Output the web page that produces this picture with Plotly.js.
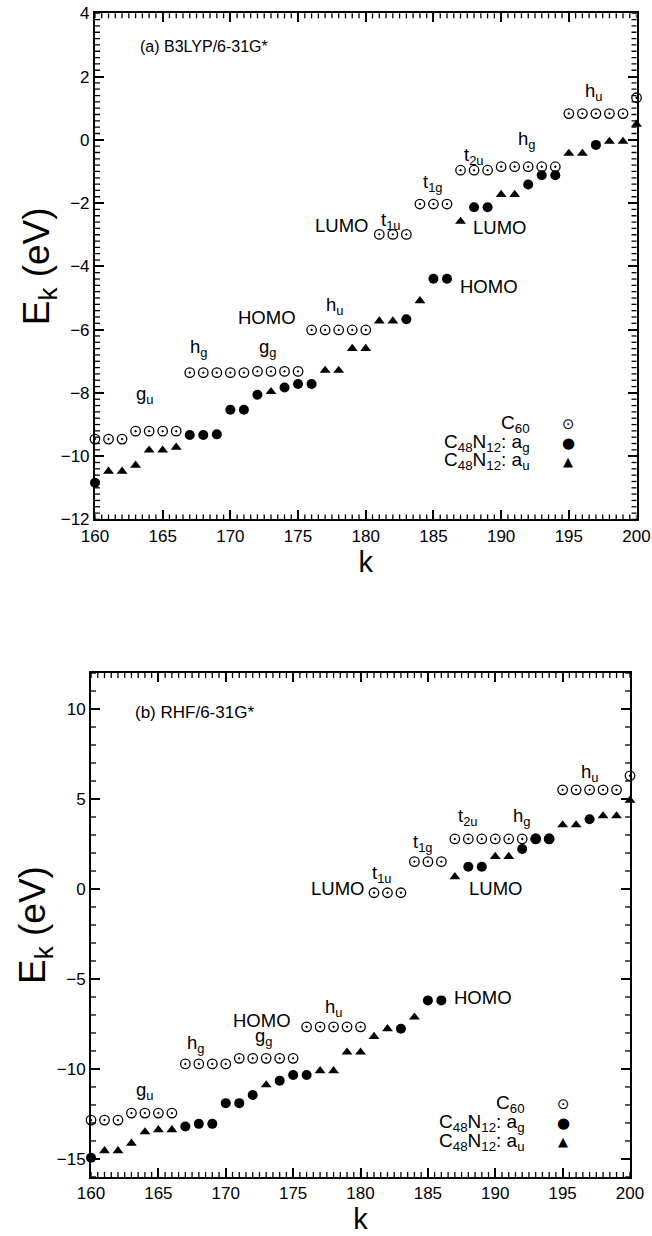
<!DOCTYPE html>
<html><head><meta charset="utf-8">
<script src="https://cdn.plot.ly/plotly-3.0.1.min.js"></script>
<style>html,body{margin:0;padding:0;background:#fff}</style>
</head><body><div id="chart" style="width:652px;height:1236px"></div>
<script>
// ---------- data ----------
const kC60 = [160,161,162,163,164,165,166,167,168,169,170,171,172,173,174,175,176,177,178,179,180,
              181,182,183,184,185,186,187,188,189,190,191,192,193,194,195,196,197,198,199,200];
// (a) B3LYP/6-31G*
const b3lypC60 = [-9.46,-9.46,-9.46,-9.21,-9.21,-9.21,-9.21,-7.36,-7.36,-7.36,-7.36,-7.36,-7.32,-7.32,-7.32,-7.32,
                  -6.01,-6.01,-6.01,-6.01,-6.01,-2.99,-2.99,-2.99,-2.03,-2.03,-2.03,-0.96,-0.96,-0.96,
                  -0.85,-0.85,-0.85,-0.85,-0.85,0.83,0.83,0.83,0.83,0.83,1.33];
const kAg = [160,167,168,169,170,171,172,174,175,176,183,185,186,188,189,192,193,194,197];
const b3lypAg = [-10.84,-9.33,-9.33,-9.31,-8.53,-8.53,-8.06,-7.83,-7.72,-7.72,-5.67,-4.39,-4.39,-2.13,-2.13,-1.41,-1.12,-1.12,-0.16];
const kAu = [161,162,163,164,165,166,173,177,178,179,180,181,182,184,187,190,191,195,196,198,199,200];
const b3lypAu = [-10.48,-10.48,-10.29,-9.81,-9.81,-9.72,-7.96,-7.29,-7.29,-6.60,-6.60,-5.73,-5.73,-5.09,-2.58,-1.73,-1.73,-0.43,-0.43,-0.05,-0.05,0.49];
// (b) RHF/6-31G*
const rhfC60 = [-12.84,-12.84,-12.84,-12.45,-12.45,-12.45,-12.45,-9.72,-9.72,-9.72,-9.72,-9.41,-9.41,-9.41,-9.41,-9.41,
                -7.66,-7.66,-7.66,-7.66,-7.66,-0.21,-0.21,-0.21,1.52,1.52,1.52,2.78,2.78,2.78,
                2.78,2.78,2.78,2.78,2.78,5.51,5.51,5.51,5.51,5.51,6.29];
const rhfAg = [-14.93,-13.2,-13.05,-13.05,-11.9,-11.9,-11.45,-10.65,-10.34,-10.34,-7.77,-6.19,-6.19,1.24,1.24,2.22,2.8,2.8,3.88];
const rhfAu = [-14.55,-14.55,-14.13,-13.5,-13.38,-13.38,-10.89,-10.1,-10.1,-9.07,-9.07,-8.2,-7.77,-7.12,0.68,1.8,1.8,3.56,3.56,4.06,4.06,4.93];
// tick labels
const xTicks = [160,165,170,175,180,185,190,195,200];
const yTicksTop = [-12,-10,-8,-6,-4,-2,0,2,4];
const yTicksBot = [-15,-10,-5,0,5,10];
const legendLabels = ['C<sub>60</sub>','C<sub>48</sub>N<sub>12</sub>: a<sub>g</sub>','C<sub>48</sub>N<sub>12</sub>: a<sub>u</sub>'];
const legendGlyphs = ['\u2299','\u25CF','\u25B2'];

// ---------- styling ----------
const FONT = 'Liberation Sans, Arial, Helvetica, sans-serif';
const mkC60 = {symbol:'circle-open-dot', size:9.5, color:'#000', line:{width:1.3, color:'#000'}};
const mkAg  = {symbol:'circle', size:10, color:'#000'};
const mkAu  = {symbol:'triangle-up', size:9.5, color:'#000'};

function tr(x, y, mk, xa, ya){
  return {type:'scatter', mode:'markers', x:x, y:y, marker:mk, xaxis:xa, yaxis:ya,
          cliponaxis:false, showlegend:false, hoverinfo:'x+y'};
}
const traces = [
  tr(kC60, b3lypC60, mkC60, 'x', 'y'),
  tr(kAg, b3lypAg, mkAg, 'x', 'y'),
  tr(kAu, b3lypAu, mkAu, 'x', 'y'),
  tr(kC60, rhfC60, mkC60, 'x2', 'y2'),
  tr(kAg, rhfAg, mkAg, 'x2', 'y2'),
  tr(kAu, rhfAu, mkAu, 'x2', 'y2')
];

function common(){ return {ticks:'inside', tickcolor:'#000', showline:true, linewidth:2, linecolor:'#000',
  mirror:'ticks', showgrid:false, zeroline:false}; }
const xRange = [xTicks[0], xTicks[xTicks.length-1]];
const yRangeTop = [yTicksTop[0], yTicksTop[yTicksTop.length-1]];
const yRangeBot = [-16, 12];
function xax(domain, anchor, standoff){
  return Object.assign(common(), {domain:domain, anchor:anchor, range:xRange,
    tick0:xTicks[0], dtick:xTicks[1]-xTicks[0],
    ticklen:9, tickwidth:1.8, tickfont:{family:FONT, size:17, color:'#000'},
    title:{text:'k', font:{family:FONT, size:29, color:'#000'}, standoff:standoff}});
}
function yax(domain, anchor, range, tv){
  return Object.assign(common(), {domain:domain, anchor:anchor, range:range,
    tick0:tv[0], dtick:tv[1]-tv[0],
    ticklen:9, tickwidth:1.8, tickfont:{family:FONT, size:17, color:'#000'},
    title:{text:'E<sub>k</sub> (eV)', font:{family:FONT, size:37, color:'#000'}, standoff:0}});
}

// minor ticks drawn as short line shapes on all four sides of each panel (positioned through the axes)
const shapes = [];
function minorTicks(xr, yr, xRng, yRng, xStep, yStep, fx, fy){
  const ln = {color:'#000', width:1.3};
  for (let v = xRng[0]; v <= xRng[1] + 1e-9; v += xStep){
    shapes.push({type:'line', xref:xr, yref:yr + ' domain', x0:v, x1:v, y0:0, y1:fy, line:ln, layer:'above'});
    shapes.push({type:'line', xref:xr, yref:yr + ' domain', x0:v, x1:v, y0:1, y1:1 - fy, line:ln, layer:'above'});
  }
  for (let v = yRng[0]; v <= yRng[1] + 1e-9; v += yStep){
    shapes.push({type:'line', xref:xr + ' domain', yref:yr, x0:0, x1:fx, y0:v, y1:v, line:ln, layer:'above'});
    shapes.push({type:'line', xref:xr + ' domain', yref:yr, x0:1, x1:1 - fx, y0:v, y1:v, line:ln, layer:'above'});
  }
}
minorTicks('x', 'y', xRange, yRangeTop, 0.5, 0.2, 5/541, 5/500);
minorTicks('x2', 'y2', xRange, yRangeBot, 0.5, 1, 5/539, 5/504);

function lab(text, x, y, xr, yr, size){
  return {text:text, x:x, y:y, xref:xr, yref:yr, showarrow:false, xanchor:'center', yanchor:'middle',
          font:{family:FONT, size:size||18.5, color:'#000'}};
}
const ann = [];
ann.push({text:'(a) B3LYP/6-31G*', x:0.079, y:0.935, xref:'x domain', yref:'y domain', showarrow:false,
  xanchor:'left', yanchor:'middle', font:{family:FONT, size:16, color:'#000'}});
ann.push({text:'(b) RHF/6-31G*', x:0.078, y:0.922, xref:'x2 domain', yref:'y2 domain', showarrow:false,
  xanchor:'left', yanchor:'middle', font:{family:FONT, size:17, color:'#000'}});
[['LUMO',178.2,-2.7],['t<sub>1u</sub>',181.85,-2.55],['t<sub>1g</sub>',185.0,-1.36],['t<sub>2u</sub>',188.0,-0.5],
 ['LUMO',189.85,-2.77],['h<sub>g</sub>',191.9,-0.02],['h<sub>u</sub>',196.85,1.51],['g<sub>u</sub>',163.7,-8.08],
 ['h<sub>g</sub>',167.7,-6.58],['g<sub>g</sub>',172.75,-6.58],['HOMO',172.7,-5.62],['h<sub>u</sub>',177.7,-5.24],
 ['HOMO',189.1,-4.64]].forEach(a=>ann.push(lab(a[0],a[1],a[2],'x','y')));
[['LUMO',178.3,0.0],['t<sub>1u</sub>',181.6,0.83],['t<sub>1g</sub>',184.6,2.56],['t<sub>2u</sub>',188.0,4.0],
 ['h<sub>g</sub>',192.0,4.0],['LUMO',190.0,0.0],['h<sub>u</sub>',197.0,6.46],['g<sub>u</sub>',164.0,-11.2],
 ['h<sub>g</sub>',167.8,-8.6],['HOMO',172.7,-7.28],['g<sub>g</sub>',172.8,-8.2],['h<sub>u</sub>',178.0,-6.6],
 ['HOMO',189.1,-6.05]].forEach(a=>ann.push(lab(a[0],a[1],a[2],'x2','y2')));
const legTop = [0.189,0.151,0.115], legBot = [0.145,0.107,0.070];
const glyphSize = [15,15,13];
legendLabels.forEach((t,i)=>{
  ann.push({text:t, x:0.807, y:legTop[i], xref:'x domain', yref:'y domain', showarrow:false, xanchor:'right', yanchor:'middle',
    font:{family:FONT, size:19, color:'#000'}});
  ann.push({text:legendGlyphs[i], x:0.8735, y:legTop[i], xref:'x domain', yref:'y domain', showarrow:false, xanchor:'center', yanchor:'middle',
    font:{family:'DejaVu Sans', size:glyphSize[i], color:'#000'}});
  ann.push({text:t, x:0.809, y:legBot[i], xref:'x2 domain', yref:'y2 domain', showarrow:false, xanchor:'right', yanchor:'middle',
    font:{family:FONT, size:19, color:'#000'}});
  ann.push({text:legendGlyphs[i], x:0.876, y:legBot[i], xref:'x2 domain', yref:'y2 domain', showarrow:false, xanchor:'center', yanchor:'middle',
    font:{family:'DejaVu Sans', size:glyphSize[i], color:'#000'}});
});

const layout = {
  width:652, height:1236, paper_bgcolor:'#fff', plot_bgcolor:'rgba(0,0,0,0)',
  margin:{l:60, r:10, t:10, b:50}, showlegend:false,
  font:{family:FONT, color:'#000'},
  xaxis: xax([0.0601,0.9906], 'y', 0),
  yaxis: yax([0.5668,0.9972], 'x', yRangeTop, yTicksTop),
  xaxis2: xax([0.0533,0.9794], 'y2', 4),
  yaxis2: yax([0.0077,0.4362], 'x2', yRangeBot, yTicksBot),
  shapes: shapes,
  annotations: ann
};
Plotly.newPlot('chart', traces, layout, {displayModeBar:false});
</script></body></html>
